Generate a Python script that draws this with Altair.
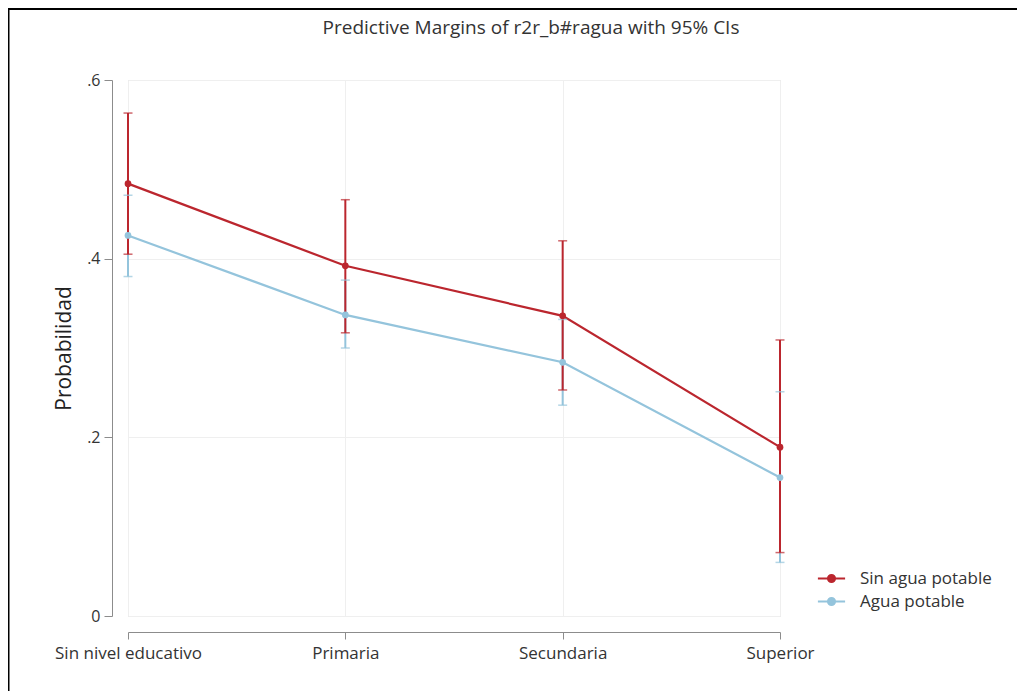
import altair as alt
import pandas as pd

categories = ["Sin nivel educativo", "Primaria", "Secundaria", "Superior"]
series_names = ["Sin agua potable", "Agua potable"]
title_text = "Predictive Margins of r2r_b#ragua with 95% CIs"

sin_mean = [0.484, 0.392, 0.336, 0.189]
sin_lo = [0.405, 0.317, 0.253, 0.071]
sin_hi = [0.563, 0.466, 0.420, 0.309]

agua_mean = [0.426, 0.337, 0.284, 0.155]
agua_lo = [0.380, 0.300, 0.236, 0.060]
agua_hi = [0.471, 0.376, 0.332, 0.251]

rows = []
for i, c in enumerate(categories):
    rows.append({"cat": c, "serie": series_names[1], "m": agua_mean[i], "lo": agua_lo[i], "hi": agua_hi[i], "ord": 0})
for i, c in enumerate(categories):
    rows.append({"cat": c, "serie": series_names[0], "m": sin_mean[i], "lo": sin_lo[i], "hi": sin_hi[i], "ord": 1})
df = pd.DataFrame(rows)

RED = "#bb262e"
BLUE = "#94c4dc"
FONT = "Open Sans"

W, H = 652, 536
PL, PT, PR, PB = 120, 72, 237, 75

cscale = alt.Scale(domain=series_names, range=[RED, BLUE])

color = alt.Color(
    "serie:N",
    scale=cscale,
    sort=series_names,
    legend=alt.Legend(
        title=None,
        orient="none",
        legendX=694,
        legendY=489,
        symbolType="M-1.6,0L-0.42,0M0.42,0L1.6,0M-0.42,0A0.42,0.42 0 1,1 0.42,0A0.42,0.42 0 1,1 -0.42,0Z",
        symbolSize=289,
        symbolStrokeWidth=2,
        labelFont=FONT,
        labelFontSize=17,
        labelColor="#333333",
        labelOffset=19,
        rowPadding=5,
    ),
)

x = alt.X(
    "cat:N",
    sort=categories,
    scale=alt.Scale(type="point", padding=0),
    axis=alt.Axis(
        title=None,
        labelAngle=0,
        offset=16,
        domainColor="#8c8c8c",
        tickColor="#8c8c8c",
        tickSize=7,
        labelPadding=6,
        labelFont=FONT,
        labelFontSize=17,
        labelColor="#333333",
        grid=True,
        gridColor="#efefef",
    ),
)
y_scale = alt.Scale(domain=[0, 0.6], nice=False, zero=True)
y = alt.Y(
    "m:Q",
    scale=y_scale,
    axis=alt.Axis(
        title="Probabilidad",
        values=[0, 0.2, 0.4, 0.6],
        labelExpr="datum.value == 0 ? '0' : replace(format(datum.value, '.1f'), '0.', '.')",
        offset=16,
        domainColor="#8c8c8c",
        tickColor="#8c8c8c",
        tickSize=8,
        labelPadding=4,
        labelFont=FONT,
        labelFontSize=16,
        labelColor="#333333",
        titleFont=FONT,
        titleFontSize=21,
        titleFontWeight="normal",
        titleColor="#222222",
        titlePadding=12,
        grid=True,
        gridColor="#efefef",
    ),
)

base = alt.Chart(df)
nolegend = alt.Color("serie:N", scale=cscale, legend=None)

bars = base.mark_rule(strokeWidth=2).encode(
    x=x, y=alt.Y("lo:Q", scale=y_scale), y2="hi:Q", color=nolegend,
)
cap_lo = base.mark_tick(thickness=1.5, size=9).encode(
    x=x, y=alt.Y("lo:Q", scale=y_scale), color=nolegend,
)
cap_hi = base.mark_tick(thickness=1.5, size=9).encode(
    x=x, y=alt.Y("hi:Q", scale=y_scale), color=nolegend,
)
lines = base.mark_line(strokeWidth=2.2).encode(
    x=x, y=y, color=color, detail="serie:N",
)
points = base.mark_circle(size=45, opacity=1).encode(
    x=x, y=alt.Y("m:Q", scale=y_scale), color=nolegend,
)

deco_df = pd.DataFrame({"t": [title_text]})
frame_left = alt.Chart(deco_df).mark_rule(color="black", strokeWidth=2).encode(
    x=alt.value(-PL + 0.5), y=alt.value(-PT), y2=alt.value(H + PB)
)
frame_top = alt.Chart(deco_df).mark_rule(color="black", strokeWidth=2).encode(
    x=alt.value(-PL), x2=alt.value(W + PR), y=alt.value(-PT + 1)
)
title = alt.Chart(deco_df).mark_text(
    font=FONT, fontSize=19, color="#333333", align="center", baseline="middle"
).encode(text="t:N", x=alt.value(403), y=alt.value(-52))

chart = alt.layer(
    frame_left, frame_top, title, lines, bars, cap_lo, cap_hi, points
).resolve_scale(color="shared").properties(
    width=W,
    height=H,
    padding={"left": PL, "top": PT, "right": PR, "bottom": PB},
    autosize=alt.AutoSizeParams(type="none"),
).configure_view(stroke=None).configure(background="white")

chart.save("out.html", embed_options={"renderer": "svg", "actions": False})
